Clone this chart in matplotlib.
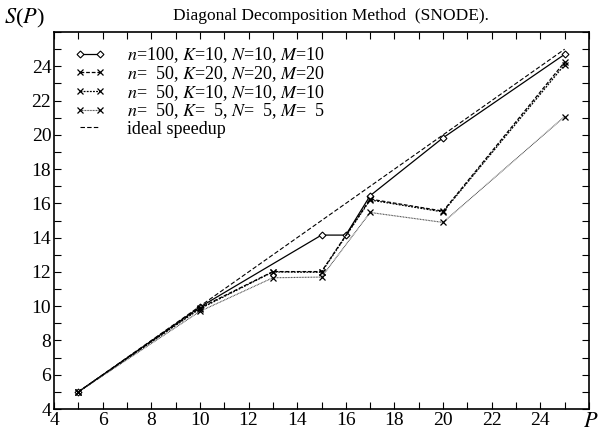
import matplotlib
matplotlib.use("Agg")
import matplotlib.pyplot as plt
from matplotlib.ticker import MultipleLocator

plt.rcParams["font.family"] = ["Liberation Serif", "DejaVu Serif"]
plt.rcParams["mathtext.fontset"] = "stix"

# Processor counts and measured speedups
p_a = [5, 10, 15, 16, 17, 20, 25]
s_n100_k10 = [5.0, 9.95, 14.15, 14.15, 16.45, 19.83, 24.7]

p_b = [5, 10, 13, 15, 17, 20, 25]
s_n50_k20 = [5.0, 9.9, 12.02, 12.02, 16.25, 15.55, 24.25]
s_n50_k10 = [5.0, 9.85, 12.0, 11.98, 16.2, 15.5, 24.1]
s_n50_k5 = [5.0, 9.7, 11.66, 11.7, 15.47, 14.89, 21.07]

p_ideal = [5, 25]
s_ideal = [5, 25]

labels = [
    r"$n$=100, $K$=10, $N$=10, $M$=10",
    r"$n$=  50, $K$=20, $N$=20, $M$=20",
    r"$n$=  50, $K$=10, $N$=10, $M$=10",
    r"$n$=  50, $K$=  5, $N$=  5, $M$=  5",
    "ideal speedup",
]

fig = plt.figure(figsize=(6.01, 4.33), dpi=100)
ax = fig.add_axes([0.0899, 0.0554, 0.8901, 0.8706])

ax.plot(p_a, s_n100_k10, color="black", lw=0.9, marker="D", ms=3.5,
        mfc="white", mec="black", mew=0.8, label=labels[0])
ax.plot(p_b, s_n50_k20, color="black", lw=0.9, ls=(0, (3, 1.5)), marker="x",
        ms=5, mew=0.9, label=labels[1])
ax.plot(p_b, s_n50_k10, color="black", lw=0.9, ls=(0, (1.5, 1)), marker="x",
        ms=5, mew=0.9, label=labels[2])
ax.plot(p_b, s_n50_k5, color="#444444", lw=0.8, ls=(0, (0.8, 0.6)), marker="x",
        ms=5, mew=0.9, mec="black", label=labels[3])
ax.plot(p_ideal, s_ideal, color="black", lw=0.8, ls=(0, (4, 2)),
        label=labels[4])

ax.set_xlim(4, 26)
ax.set_ylim(4, 26)
ax.xaxis.set_minor_locator(MultipleLocator(1))
ax.yaxis.set_minor_locator(MultipleLocator(1))
ax.set_xticks([4, 6, 8, 10, 12, 14, 16, 18, 20, 22, 24])
ax.set_yticks([4, 6, 8, 10, 12, 14, 16, 18, 20, 22, 24])
ax.tick_params(which="both", direction="in", top=True, right=True,
               length=5, width=0.8, labelsize=14, pad=2)
for sp in ax.spines.values():
    sp.set_linewidth(1.2)

fig.text(0.006, 0.93, r"$S$($P$)", fontsize=16, ha="left", va="bottom")
fig.text(0.996, 0.002, r"$P$", fontsize=16, ha="right", va="bottom")
fig.text(0.55, 0.945, "Diagonal Decomposition Method  (SNODE).",
         fontsize=12.5, ha="center", va="bottom")

ax.legend(loc="upper left", frameon=False, fontsize=13, handlelength=1.7,
          handletextpad=1.2, labelspacing=-0.05, borderaxespad=0.0,
          numpoints=2, bbox_to_anchor=(0.025, 0.985))

fig.savefig("out.png", dpi=100)
